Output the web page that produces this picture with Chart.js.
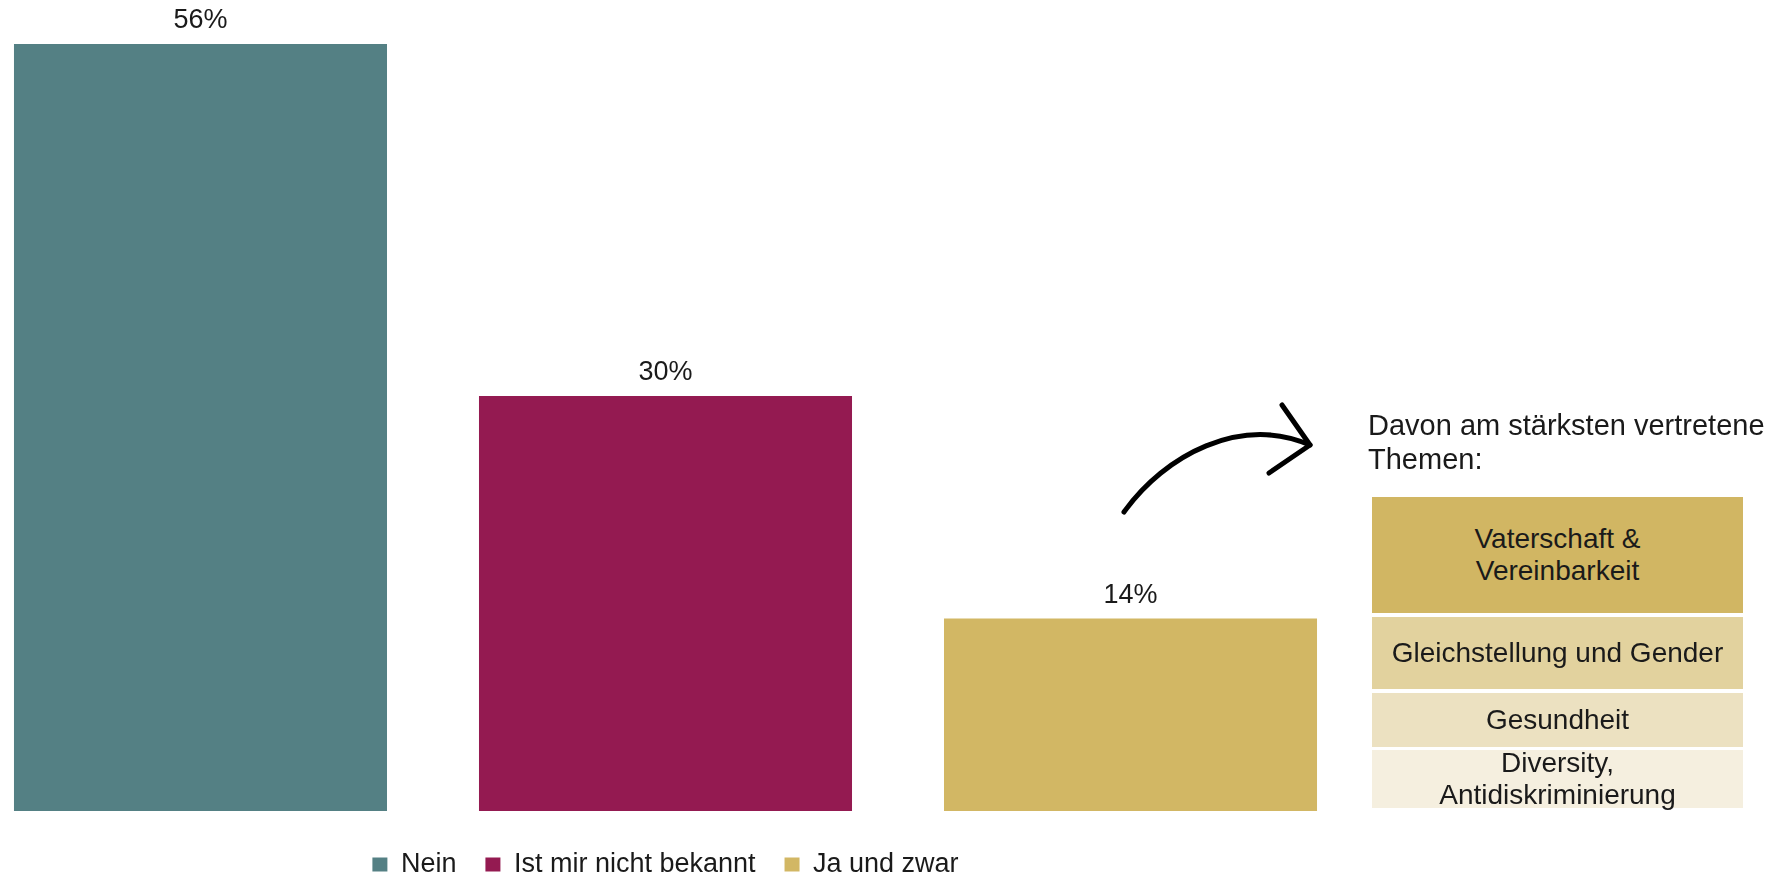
<!DOCTYPE html>
<html>
<head>
<meta charset="utf-8">
<script src="https://cdn.jsdelivr.net/npm/chart.js@4.4.1/dist/chart.umd.min.js"></script>
<style>
  body { margin: 0; background: #fff; }
  #wrap { position: relative; width: 1785px; height: 876px; overflow: hidden; }
  #wrap canvas { position: absolute; left: 0; top: 0; }
  .panel-title {
    position: absolute; left: 1368px; top: 408px;
    font: 29px "Liberation Sans", Arial, sans-serif; line-height: 34px; color: #1a1a1a;
  }
  .theme {
    position: absolute; left: 1372px; width: 371px;
    display: flex; align-items: center; justify-content: center; text-align: center;
    font: 28px "Liberation Sans", Arial, sans-serif; line-height: 32px; color: #1a1a1a;
  }
</style>
</head>
<body>
<div id="wrap">
  <canvas id="chart"></canvas>
  <svg width="1785" height="876" style="position:absolute;left:0;top:0;pointer-events:none">
    <g fill="none" stroke="#000" stroke-width="5" stroke-linecap="round" stroke-linejoin="round">
      <path d="M1124 512 C 1165 455, 1240 415, 1310 445"/>
      <path d="M1282 405 L1310 445 L1269 473"/>
    </g>
  </svg>
  <div class="panel-title">Davon am stärksten vertretene<br>Themen:</div>
  <div id="themes"></div>
</div>
<script>
// Antwort-Verteilung
const categories = ['Antwort'];
const seriesLabels = ['Nein', 'Ist mir nicht bekannt', 'Ja und zwar'];
const seriesValues = [55.8, 30.2, 14.0];
const seriesColors = ['#548084', '#941A51', '#D2B764'];

// Themen rechts
const themeLabels = ['Vaterschaft &<br>Vereinbarkeit', 'Gleichstellung und Gender', 'Gesundheit', 'Diversity,<br>Antidiskriminierung'];
const themeColors = ['#D1B663', '#E2D29E', '#ECE1C1', '#F5EFDF'];
const themeBoxes = [[497, 116], [617, 72], [693, 54], [750, 58]];

const themesEl = document.getElementById('themes');
themeLabels.forEach((t, i) => {
    const d = document.createElement('div');
    d.className = 'theme';
    d.style.top = themeBoxes[i][0] + 'px';
    d.style.height = themeBoxes[i][1] + 'px';
    d.style.background = themeColors[i];
    d.innerHTML = t;
    themesEl.appendChild(d);
});

// Prozentwerte ueber den Balken
const valueLabels = {
    id: 'valueLabels',
    afterDatasetsDraw(chart) {
        const ctx = chart.ctx;
        ctx.save();
        ctx.font = '27px "Liberation Sans", Arial, sans-serif';
        ctx.fillStyle = '#1a1a1a';
        ctx.textAlign = 'center';
        ctx.textBaseline = 'alphabetic';
        chart.data.datasets.forEach((ds, i) => {
            chart.getDatasetMeta(i).data.forEach((bar, j) => {
                ctx.fillText(Math.round(ds.data[j]) + '%', bar.x, bar.y - 16);
            });
        });
        ctx.restore();
    }
};

const TheChart = new Chart(document.getElementById('chart'), {
    type: 'bar',
    data: {
        labels: categories,
        datasets: seriesLabels.map((label, i) => ({
            label: label,
            data: [seriesValues[i]],
            backgroundColor: seriesColors[i],
            borderWidth: 0,
            clip: false,
            categoryPercentage: 1.0481,
            barPercentage: 0.8022
        }))
    },
    options: {
        responsive: true,
        maintainAspectRatio: false,
        animation: false,
        layout: {
            padding: { top: 0, right: 454, bottom: 0, left: 0 }
        },
        scales: {
            x: {
                grid: { display: false },
                border: { display: false },
                ticks: { display: false },
                afterFit: function (scale) { scale.height = 11; }
            },
            y: {
                display: false,
                min: 0,
                max: 59
            }
        },
        plugins: {
            legend: {
                position: 'bottom',
                align: 'center',
                maxHeight: 54,
                labels: {
                    boxWidth: 15,
                    boxHeight: 14,
                    padding: 29,
                    color: '#1a1a1a',
                    font: { family: '"Liberation Sans", Arial, sans-serif', size: 27 }
                }
            },
            tooltip: { enabled: false }
        }
    },
    plugins: [valueLabels]
});
</script>
</body>
</html>
